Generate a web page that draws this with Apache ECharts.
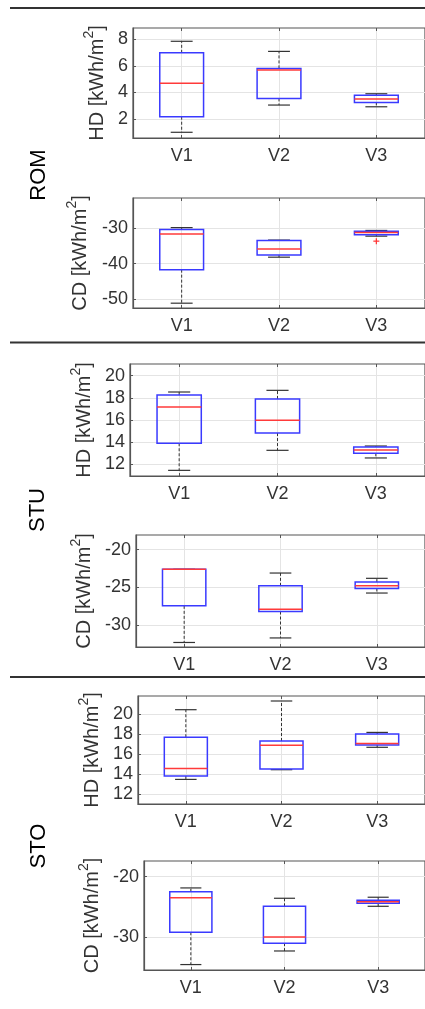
<!DOCTYPE html>
<html><head><meta charset="utf-8">
<script src="https://cdn.jsdelivr.net/npm/echarts@6/dist/echarts.min.js"></script>
<style>html,body{margin:0;padding:0;background:#fff}#c{width:425px;height:1009px}</style>
</head><body><div id="c"></div>
<script>
const categories = ['V1', 'V2', 'V3'];
const groups = ['ROM', 'STU', 'STO'];
// each row: [lower whisker, Q1, median, Q3, upper whisker]
const romHD = [[1.0, 2.17, 4.7, 6.98, 7.85], [3.05, 3.55, 5.68, 5.81, 7.09], [2.92, 3.25, 3.5, 3.78, 3.9]];
const romCD = [[-51.1, -41.7, -31.7, -30.4, -29.9], [-38.2, -37.6, -35.9, -33.5, -33.4], [-32.3, -31.9, -31.3, -30.9, -30.7]];
const romCDOutliers = [[3, -33.7]];
const stuHD = [[11.45, 13.9, 17.17, 18.26, 18.53], [13.26, 14.82, 15.97, 17.9, 18.68], [12.57, 12.99, 13.29, 13.56, 13.65]];
const stuCD = [[-32.3, -27.45, -22.6, -22.6, -22.6], [-31.7, -28.2, -27.9, -24.8, -23.1], [-25.75, -25.15, -24.8, -24.3, -23.8]];
const stoHD = [[13.46, 13.8, 14.56, 17.68, 20.43], [14.43, 14.5, 16.87, 17.3, 21.3], [16.67, 16.9, 17.06, 18.0, 18.16]];
const stoCD = [[-34.55, -29.2, -23.47, -22.5, -21.86], [-32.3, -31.0, -30.0, -24.9, -23.57], [-24.9, -24.4, -24.15, -23.9, -23.4]];
const hdTicksROM = [2, 4, 6, 8];
const cdTicksROM = [-50, -40, -30];
const hdTicksSTU = [12, 14, 16, 18, 20];
const cdTicksSTU = [-30, -25, -20];
const hdTicksSTO = [12, 14, 16, 18, 20];
const cdTicksSTO = [-30, -20];

const FONT = 'Liberation Sans, Arial, Helvetica, sans-serif';
const panels = [
  { data: romHD, out: [], ticks: hdTicksROM, label: 'HD', min: 0.57, max: 8.85, grid: { left: 133, top: 28, width: 300, height: 110 }, gap: 20 },
  { data: romCD, out: romCDOutliers, ticks: cdTicksROM, label: 'CD', min: -52.45, max: -21.6, grid: { left: 133, top: 198, width: 300, height: 110 }, gap: 38 },
  { data: stuHD, out: [], ticks: hdTicksSTU, label: 'HD', min: 10.94, max: 21.06, grid: { left: 130, top: 364, width: 307, height: 112 }, gap: 31 },
  { data: stuCD, out: [], ticks: cdTicksSTU, label: 'CD', min: -32.9, max: -18.06, grid: { left: 136, top: 535, width: 300, height: 112 }, gap: 37 },
  { data: stoHD, out: [], ticks: hdTicksSTO, label: 'HD', min: 11.0, max: 21.8, grid: { left: 138, top: 696, width: 297, height: 108 }, gap: 29 },
  { data: stoCD, out: [], ticks: cdTicksSTO, label: 'CD', min: -35.45, max: -17.4, grid: { left: 144, top: 861, width: 291, height: 109 }, gap: 35 }
];

const AX = '#555';
const grids = [], xAxes = [], yAxes = [], series = [];
const xVals = categories.map((c, i) => i + 1);

function renderBox(params, api) {
  const x = api.value(0);
  const c = v => api.coord([x, v]);
  const half = api.size([0.45, 0])[0] / 2;
  const capHalf = half / 2;
  const px = c(api.value(3))[0];
  const yLo = c(api.value(1))[1], yQ1 = c(api.value(2))[1], yMed = c(api.value(3))[1],
        yQ3 = c(api.value(4))[1], yHi = c(api.value(5))[1];
  const wStyle = { stroke: '#333', lineWidth: 1, lineDash: [3, 2] };
  const capStyle = { stroke: '#333', lineWidth: 1.2 };
  return {
    type: 'group', children: [
      { type: 'line', shape: { x1: px, y1: yQ3, x2: px, y2: yHi }, style: wStyle },
      { type: 'line', shape: { x1: px, y1: yQ1, x2: px, y2: yLo }, style: wStyle },
      { type: 'line', shape: { x1: px - capHalf, y1: yHi, x2: px + capHalf, y2: yHi }, style: capStyle },
      { type: 'line', shape: { x1: px - capHalf, y1: yLo, x2: px + capHalf, y2: yLo }, style: capStyle },
      { type: 'rect', shape: { x: px - half, y: yQ3, width: 2 * half, height: yQ1 - yQ3 }, style: { fill: 'none', stroke: '#3a3aff', lineWidth: 1.5 } },
      { type: 'line', shape: { x1: px - half, y1: yMed, x2: px + half, y2: yMed }, style: { stroke: '#ff3a3a', lineWidth: 1.5 } }
    ]
  };
}
function renderOutlier(params, api) {
  const p = api.coord([api.value(0), api.value(1)]);
  const s = 3;
  const st = { stroke: '#ff3030', lineWidth: 1.2 };
  return { type: 'group', children: [
    { type: 'line', shape: { x1: p[0] - s, y1: p[1], x2: p[0] + s, y2: p[1] }, style: st },
    { type: 'line', shape: { x1: p[0], y1: p[1] - s, x2: p[0], y2: p[1] + s }, style: st }
  ] };
}

panels.forEach((p, i) => {
  grids.push(Object.assign({ show: true, borderColor: AX, borderWidth: 1.2, backgroundColor: '#fff' }, p.grid));
  xAxes.push({
    gridIndex: i, type: 'value', min: 0.5, max: 3.5, position: 'bottom',
    axisLine: { show: true, onZero: false, lineStyle: { color: AX, width: 1.2 } },
    axisTick: { show: true, inside: true, length: 3, customValues: xVals, lineStyle: { color: AX } },
    axisLabel: { customValues: xVals, formatter: v => categories[Math.round(v) - 1], fontSize: 18, color: '#333', fontFamily: FONT, margin: 9 },
    splitLine: { show: true, lineStyle: { color: '#e4e4e4', width: 1 } }
  });
  xAxes.push({
    gridIndex: i, type: 'value', min: 0.5, max: 3.5, position: 'top',
    axisLine: { show: false },
    axisTick: { show: true, inside: true, length: 3, customValues: xVals, lineStyle: { color: AX } },
    axisLabel: { show: false }, splitLine: { show: false }
  });
  yAxes.push({
    gridIndex: i, type: 'value', min: p.min, max: p.max,
    name: '{m|' + p.label + ' [kWh/m}{s|2}{m|]}', nameLocation: 'middle', nameRotate: 90, nameGap: p.gap,
    nameTextStyle: { color: '#333', fontFamily: FONT, rich: {
      m: { fontSize: 20, fontFamily: FONT, color: '#333' },
      s: { fontSize: 14, fontFamily: FONT, color: '#333', padding: [0, 0, 16, 0] } } },
    axisLine: { show: true, onZero: false, lineStyle: { color: AX, width: 1.2 } },
    axisTick: { show: true, inside: true, length: 3, customValues: p.ticks, lineStyle: { color: AX } },
    axisLabel: { customValues: p.ticks, fontSize: 18, color: '#333', fontFamily: FONT, margin: 5 },
    splitLine: { show: true, lineStyle: { color: '#e4e4e4', width: 1 } }
  });
  series.push({
    type: 'custom', xAxisIndex: 2 * i, yAxisIndex: i, renderItem: renderBox, clip: true,
    data: p.data.map((d, k) => [k + 1].concat(d)), silent: true
  });
  if (p.out.length) {
    series.push({ type: 'custom', xAxisIndex: 2 * i, yAxisIndex: i, renderItem: renderOutlier, data: p.out, silent: true });
  }
});

const rowLabelPos = [[39, 175], [38, 510], [39, 846]];
const sepY = [8, 342.5, 677];
const graphic = [];
sepY.forEach(y => graphic.push({ type: 'line', shape: { x1: 10, y1: y, x2: 425, y2: y }, style: { stroke: '#333', lineWidth: 2 } }));
groups.forEach((g, i) => graphic.push({
  type: 'text', x: rowLabelPos[i][0], y: rowLabelPos[i][1], rotation: Math.PI / 2,
  style: { text: g, fontSize: 22, fontFamily: FONT, fill: '#000', align: 'center', verticalAlign: 'middle' }
}));

const chart = echarts.init(document.getElementById('c'), null, { renderer: 'canvas' });
chart.setOption({ animation: false, backgroundColor: '#fff', grid: grids, xAxis: xAxes, yAxis: yAxes, series: series, graphic: graphic });
</script></body></html>
